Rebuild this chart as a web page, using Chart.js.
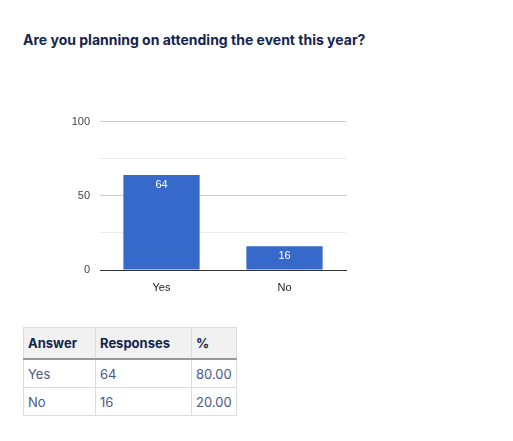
<!DOCTYPE html>
<html>
<head>
<meta charset="utf-8">
<script src="https://cdn.jsdelivr.net/npm/chart.js@4"></script>
<style>
  body { margin: 0; background: #fff; font-family: Inter, "Noto Sans", sans-serif; }
  h1 { position: absolute; left: 23px; top: 31px; margin: 0; font-size: 14px; font-weight: 700; color: #15244d; }
  #wrap { position: absolute; left: 40px; top: 105px; width: 320px; height: 190px; }
  table { position: absolute; left: 23px; top: 327px; border-collapse: collapse; font-size: 13px; }
  th, td { border: 1px solid #ddd; text-align: left; padding: 0 4px; }
  th { background: #f1f1f1; color: #15244d; height: 30px; border-bottom: 2px solid #999; font-weight: 700; }
  td { color: #4a5a85; height: 27px; }
</style>
</head>
<body>
<h1>Are you planning on attending the event this year?</h1>
<div id="wrap"><canvas id="chart"></canvas></div>
<table id="tbl">
  <tr><th style="width:63px">Answer</th><th style="width:87px">Responses</th><th style="width:36px">%</th></tr>
</table>
<script>
const answers = ['Yes', 'No'];
const responses = [64, 16];
const percents = ['80.00', '20.00'];
const yTicks = [0, 50, 100];

const tbl = document.getElementById('tbl');
answers.forEach((a, i) => {
    const tr = document.createElement('tr');
    tr.innerHTML = `<td>${a}</td><td>${responses[i]}</td><td>${percents[i]}</td>`;
    tbl.appendChild(tr);
});

const barLabels = {
    id: 'barLabels',
    afterDatasetsDraw(chart) {
        const ctx = chart.ctx;
        ctx.save();
        ctx.fillStyle = '#fff';
        ctx.font = '11px "Liberation Sans", Arial, sans-serif';
        ctx.textAlign = 'center';
        ctx.textBaseline = 'middle';
        chart.getDatasetMeta(0).data.forEach((bar, i) => {
            ctx.fillText(responses[i], bar.x, bar.y + 10);
        });
        ctx.restore();
    }
};

new Chart(document.getElementById('chart'), {
    type: 'bar',
    data: {
        labels: answers,
        datasets: [{
            data: responses,
            backgroundColor: '#3669c9',
            categoryPercentage: 0.62,
            barPercentage: 1
        }]
    },
    options: {
        responsive: true,
        maintainAspectRatio: false,
        animation: false,
        layout: { padding: { top: 12, right: 14 } },
        plugins: { legend: { display: false }, tooltip: { enabled: false } },
        scales: {
            x: {
                grid: { display: false },
                border: { color: '#333' },
                ticks: { color: '#222', font: { family: '"Liberation Sans", Arial', size: 11 } },
                afterFit(s) { s.height = 25; }
            },
            y: {
                min: 0, max: 100,
                ticks: {
                    stepSize: 25,
                    color: '#444',
                    padding: 10,
                    font: { family: '"Liberation Sans", Arial', size: 11 },
                    callback: v => yTicks.includes(v) ? v : ''
                },
                grid: {
                    drawTicks: false,
                    color: c => c.tick.value === 0 ? '#333' : (yTicks.includes(c.tick.value) ? '#cccccc' : '#ebebeb')
                },
                border: { display: false },
                afterFit(s) { s.width = 60; }
            }
        }
    },
    plugins: [barLabels]
});
</script>
</body>
</html>
